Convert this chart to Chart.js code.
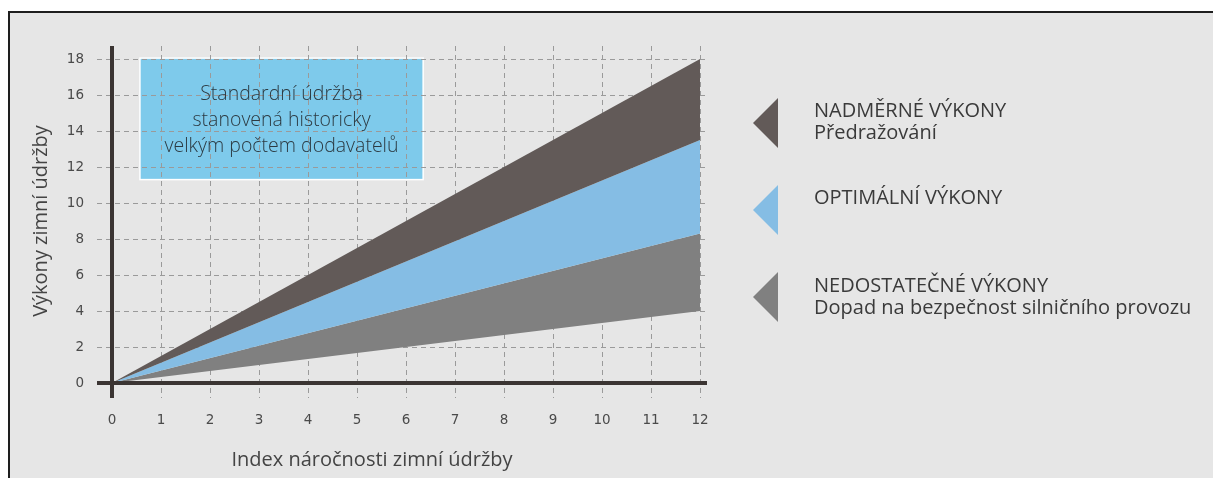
<!DOCTYPE html>
<html lang="cs">
<head>
<meta charset="utf-8">
<title>Výkony zimní údržby</title>
<script src="https://cdn.jsdelivr.net/npm/chart.js@4/dist/chart.umd.min.js"></script>
<style>
  html, body { margin: 0; padding: 0; background: #ffffff; overflow: hidden; }
  #wrap { position: relative; width: 1213px; height: 478px; }
  #frame {
    position: absolute; left: 8px; top: 11px; width: 1300px; height: 600px;
    border: 2px solid #1e1e1e; background: #e6e6e6;
  }
  #chart { position: absolute; left: 0; top: 0; }
</style>
</head>
<body>
<div id="wrap">
  <div id="frame"></div>
  <canvas id="chart" width="1213" height="478"></canvas>
</div>
<script>
// index values (x) and band limits
const xValues = [0, 12];
const upperLimit = [0, 18];     // top of "nadměrné"
const optimalUpper = [0, 13.5]; // top of "optimální"
const optimalLower = [0, 8.3];  // top of "nedostatečné"
const lowerLimit = [0, 4];      // bottom of "nedostatečné"

const xTicks = [0, 1, 2, 3, 4, 5, 6, 7, 8, 9, 10, 11, 12];
const yTicks = [0, 2, 4, 6, 8, 10, 12, 14, 16, 18];

const xTitle = "Index náročnosti zimní údržby";
const yTitle = "Výkony zimní údržby";

// note box in data units: [x from, x to], [y from, y to]
const boxX = [0.57, 6.35];
const boxY = [11.3, 18.05];
const boxLines = ["Standardní údržba", "stanovená historicky", "velkým počtem dodavatelů"];

const legendTitles = ["NADMĚRNÉ VÝKONY", "OPTIMÁLNÍ VÝKONY", "NEDOSTATEČNÉ VÝKONY"];
const legendNotes = ["Předražování", "", "Dopad na bezpečnost silničního provozu"];

const darkColor = "#625a58";
const blueColor = "#85bde4";
const grayColor = "#808080";
const legendColors = [darkColor, blueColor, grayColor];

function toPoints(values) {
  return values.map((v, i) => ({ x: xValues[i], y: v }));
}

const overlay = {
  id: "overlay",
  beforeDatasetsDraw(chart) {
    const { ctx, scales: { x, y } } = chart;
    ctx.save();

    // note box
    const bx0 = x.getPixelForValue(boxX[0]);
    const bx1 = x.getPixelForValue(boxX[1]);
    const by0 = y.getPixelForValue(boxY[1]);
    const by1 = y.getPixelForValue(boxY[0]);
    ctx.fillStyle = "#7ecaeb";
    ctx.fillRect(bx0, by0, bx1 - bx0, by1 - by0);
    ctx.strokeStyle = "#ffffff";
    ctx.lineWidth = 1.5;
    ctx.strokeRect(bx0, by0, bx1 - bx0, by1 - by0);

    // dashed grid, running a little past the plot area
    ctx.setLineDash([5, 4]);
    ctx.strokeStyle = "#9a9a9a";
    ctx.lineWidth = 1;
    yTicks.forEach(v => {
      const py = Math.round(y.getPixelForValue(v)) + 0.5;
      ctx.beginPath();
      ctx.moveTo(x.left - 15, py);
      ctx.lineTo(x.right + 7, py);
      ctx.stroke();
    });
    xTicks.forEach(v => {
      const px = Math.round(x.getPixelForValue(v)) + 0.5;
      ctx.beginPath();
      ctx.moveTo(px, y.top - 13);
      ctx.lineTo(px, y.bottom + 15);
      ctx.stroke();
    });
    ctx.setLineDash([]);

    // box text
    ctx.fillStyle = "#2c3a42";
    ctx.font = "300 19.5px 'Open Sans', sans-serif";
    ctx.textAlign = "center";
    ctx.textBaseline = "alphabetic";
    const cx = (bx0 + bx1) / 2;
    boxLines.forEach((line, i) => ctx.fillText(line, cx, by0 + 42 + i * 26));

    ctx.restore();
  },
  afterDatasetsDraw(chart) {
    const { ctx, scales: { x, y } } = chart;
    ctx.save();

    // axis lines
    ctx.strokeStyle = "#3b3533";
    ctx.lineWidth = 4;
    const x0 = x.getPixelForValue(0);
    const y0 = y.getPixelForValue(0);
    ctx.beginPath();
    ctx.moveTo(x0, y.top - 13);
    ctx.lineTo(x0, y.bottom + 15);
    ctx.moveTo(x.left - 15, y0);
    ctx.lineTo(x.right + 7, y0);
    ctx.stroke();

    // x axis title
    ctx.fillStyle = "#444444";
    ctx.font = "20px 'Open Sans', sans-serif";
    ctx.textAlign = "center";
    ctx.textBaseline = "middle";
    ctx.fillText(xTitle, 372, 460);

    // legend on the right
    const tipX = 753, baseX = 778, half = 25;
    const centers = [123, 210, 297];
    const firstBase = [117, 204, 292];
    ctx.textAlign = "left";
    ctx.textBaseline = "alphabetic";
    legendTitles.forEach((t, i) => {
      ctx.fillStyle = legendColors[i];
      ctx.beginPath();
      ctx.moveTo(tipX, centers[i]);
      ctx.lineTo(baseX, centers[i] - half);
      ctx.lineTo(baseX, centers[i] + half);
      ctx.closePath();
      ctx.fill();
      ctx.fillStyle = "#3a3a3a";
      ctx.fillText(t, 814, firstBase[i]);
      if (legendNotes[i]) ctx.fillText(legendNotes[i], 814, firstBase[i] + 22);
    });

    ctx.restore();
  }
};

new Chart(document.getElementById("chart"), {
  type: "line",
  data: {
    datasets: [
      { label: "Nadměrné", data: toPoints(upperLimit), backgroundColor: darkColor, fill: "+1" },
      { label: "Optimální", data: toPoints(optimalUpper), backgroundColor: blueColor, fill: "+1" },
      { label: "Nedostatečné", data: toPoints(optimalLower), backgroundColor: grayColor, fill: "+1" },
      { label: "Spodní mez", data: toPoints(lowerLimit), fill: false }
    ]
  },
  options: {
    responsive: false,
    animation: false,
    layout: { padding: { left: 0, top: 59, right: 513, bottom: 0 } },
    elements: {
      line: { borderWidth: 0, tension: 0 },
      point: { radius: 0 }
    },
    plugins: {
      legend: { display: false },
      tooltip: { enabled: false }
    },
    scales: {
      x: {
        type: "linear",
        min: 0,
        max: 12,
        grid: { display: false, drawTicks: false },
        border: { display: false },
        ticks: {
          stepSize: 1,
          padding: 29,
          color: "#4a4a4a",
          font: { family: "'DejaVu Sans', sans-serif", size: 13.5 }
        },
        afterFit(scale) { scale.height = 95; }
      },
      y: {
        min: 0,
        max: 18,
        grid: { display: false, drawTicks: false },
        border: { display: false },
        ticks: {
          stepSize: 2,
          padding: 28,
          color: "#4a4a4a",
          font: { family: "'DejaVu Sans', sans-serif", size: 13.5 }
        },
        title: {
          display: true,
          text: yTitle,
          color: "#444444",
          padding: { top: 29 },
          font: { family: "'Open Sans', sans-serif", size: 20 }
        },
        afterFit(scale) { scale.width = 112; }
      }
    }
  },
  plugins: [overlay]
});
</script>
</body>
</html>
